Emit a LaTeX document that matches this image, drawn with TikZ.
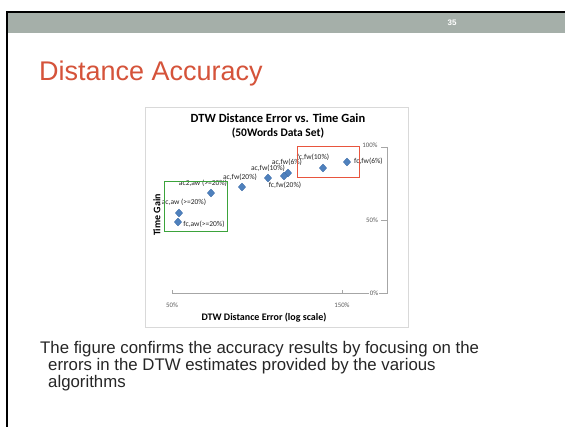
\documentclass[tikz,border=0pt]{standalone}
\usepackage{fontspec}
\setmainfont{Liberation Sans}
\newfontfamily\chartfont{Carlito}
\usetikzlibrary{shapes.geometric}
\definecolor{bandgray}{HTML}{A5AFA9}
\definecolor{titlered}{HTML}{D5533A}
\definecolor{framegray}{HTML}{D9D9D9}
\definecolor{axisgray}{HTML}{A6A6A6}
\definecolor{markblue}{HTML}{4F81BD}
\definecolor{markedge}{HTML}{3A6AA8}
\definecolor{boxgreen}{HTML}{3BA33B}
\definecolor{boxred}{HTML}{E8553E}
\definecolor{ticktext}{HTML}{595959}
\tikzset{
  pt/.style={diamond, fill=markblue, draw=markedge, line width=0.3pt,
    inner sep=0pt, minimum width=7.5pt, minimum height=8pt},
  lbl/.style={font=\chartfont\fontsize{7.5}{8}\selectfont, text=black!85, inner sep=0pt},
  ticklbl/.style={font=\chartfont\fontsize{6.8}{7}\selectfont, text=ticktext, inner sep=0pt},
  axtitle/.style={font=\chartfont\bfseries\fontsize{10}{11}\selectfont, inner sep=0pt},
}
\begin{document}
\begin{tikzpicture}[x=1pt,y=-1pt]
\useasboundingbox (0,0) rectangle (565,427);
\fill[white] (0,0) rectangle (565,427);

% slide frame and header band
\fill[bandgray] (8,13) rectangle (565,33);
\fill[black] (6,11) rectangle (565,13);
\fill[black] (6,11) rectangle (8,427);
\node[font=\bfseries\fontsize{8}{9}\selectfont, text=white, inner sep=0pt] (pagenum) at (452,23) {35};

% slide title
\node[anchor=base west, font=\fontsize{27}{30}\selectfont, text=titlered, inner sep=0pt] (title) at (39,81) {Distance Accuracy};

% chart area
\draw[framegray, line width=0.6pt] (145,107) rectangle (408,327);
\node[font=\chartfont\bfseries\fontsize{12.5}{14}\selectfont, inner sep=0pt] (ctitle) at (278,118) {DTW Distance Error vs. Time Gain};
\node[font=\chartfont\bfseries\fontsize{11.5}{13}\selectfont, inner sep=0pt] (csub) at (278,133) {(50Words Data Set)};

% axes
\coordinate (yaxtop) at (387,147);
\coordinate (yaxbot) at (387,293);
\coordinate (xaxl) at (172,293);
\draw[axisgray, line width=0.5pt] (yaxtop) -- (yaxbot) -- (xaxl);
\foreach \yy in {147,220,293} \draw[axisgray, line width=0.5pt] (381,\yy) -- (387,\yy);
\foreach \xx in {172,342} \draw[axisgray, line width=0.5pt] (\xx,293) -- (\xx,290);
\node[ticklbl, fill=white, inner xsep=1pt] (y100) at (370,145) {100\%};
\node[ticklbl] (y50) at (372,220) {50\%};
\node[ticklbl, fill=white, inner xsep=1pt] (y0) at (374,293) {0\%};
\node[ticklbl] (x50) at (172,305) {50\%};
\node[ticklbl] (x150) at (342,305) {150\%};
\node[axtitle] (xtitle) at (264,318) {DTW Distance Error (log scale)};
\node[axtitle, rotate=90] (ytitle) at (157,215) {Time Gain};

% data points
\node[pt] (p1) at (347,162) {};
\node[pt] (p2) at (323,168) {};
\node[pt] (p3) at (288,173) {};
\node[pt] (p4) at (284,176) {};
\node[pt] (p5) at (268,178) {};
\node[pt] (p6) at (242,187) {};
\node[pt] (p7) at (211,193) {};
\node[pt] (p8) at (179,213) {};
\node[pt] (p9) at (178,222) {};

% point labels
\node[lbl, anchor=west] (l1) at (354,161) {fc,fw(6\%)};
\node[lbl] (l2) at (313,157) {fc,fw(10\%)};
\node[lbl] (l3) at (287,162) {ac,fw(6\%)};
\node[lbl] (l4) at (285,185) {fc,fw(20\%)};
\node[lbl] (l5) at (268,168) {ac,fw(10\%)};
\node[lbl] (l6) at (240,177) {ac,fw(20\%)};
\node[lbl] (l7) at (203,183) {ac2,aw (>=20\%)};
\node[lbl] (l8) at (184,202) {ac,aw (>=20\%)};
\node[lbl] (l9) at (204,224) {fc,aw(>=20\%)};

% highlight boxes
\draw[boxgreen, line width=1pt] (164,182) rectangle (227,232);
\draw[boxred, line width=1pt] (297,147) rectangle (359,178);

% body text
\node[anchor=north west, align=left, font=\fontsize{16.8}{17}\selectfont, text=black!85, inner sep=0pt] (body) at (40,341)
  {The figure confirms the accuracy results by focusing on the\\
   \hspace*{8pt}errors in the DTW estimates provided by the various\\
   \hspace*{8pt}algorithms};
\end{tikzpicture}
\end{document}
